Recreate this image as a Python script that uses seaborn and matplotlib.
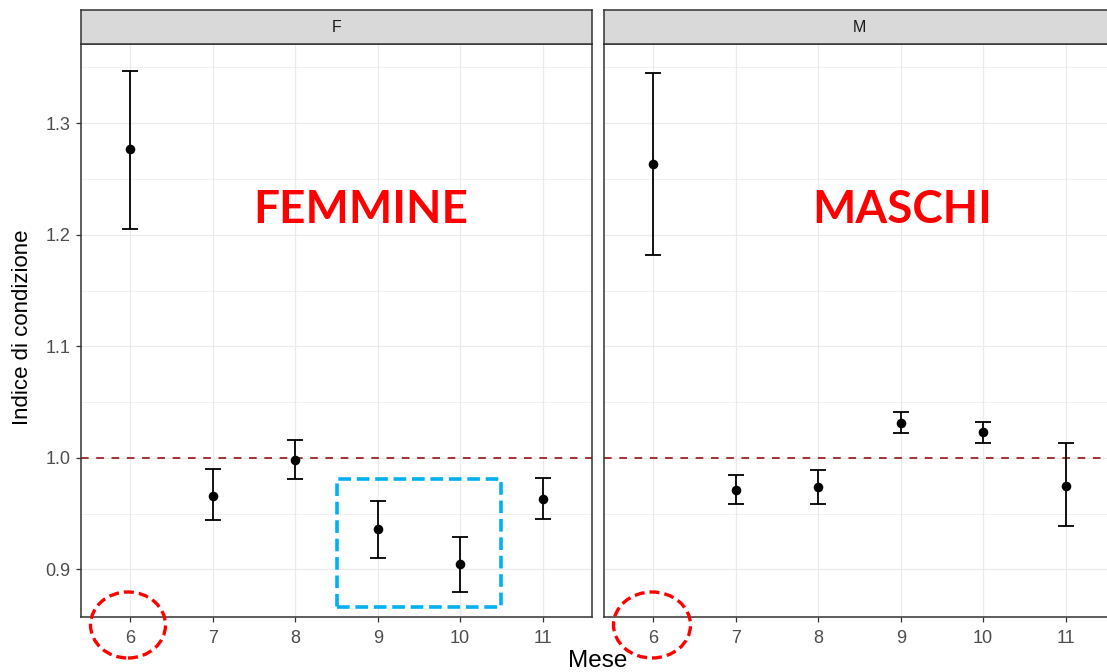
import numpy as np
import pandas as pd
import matplotlib.pyplot as plt
import seaborn as sns
from matplotlib.patches import Ellipse, Rectangle

# valori
mesi = [6, 7, 8, 9, 10, 11]
f_media = [1.277, 0.966, 0.998, 0.936, 0.905, 0.963]
f_basso = [1.205, 0.944, 0.981, 0.910, 0.880, 0.945]
f_alto = [1.347, 0.990, 1.016, 0.961, 0.929, 0.982]
m_media = [1.263, 0.971, 0.974, 1.031, 1.023, 0.975]
m_basso = [1.182, 0.959, 0.959, 1.022, 1.013, 0.939]
m_alto = [1.345, 0.985, 0.989, 1.041, 1.032, 1.013]
pannelli = ["F", "M"]
etichette = ["FEMMINE", "MASCHI"]

df = pd.concat([
    pd.DataFrame({"Mese": mesi, "sesso": "F", "indice": f_media, "lo": f_basso, "hi": f_alto}),
    pd.DataFrame({"Mese": mesi, "sesso": "M", "indice": m_media, "lo": m_basso, "hi": m_alto}),
])

sns.set_style("white")
plt.rcParams["font.family"] = ["Liberation Sans", "DejaVu Sans"]

W, H = 1107, 672
fig = plt.figure(figsize=(W / 100, H / 100), dpi=100)


def fx(px):
    return px / W


def fy(py):
    return 1 - py / H


top, bottom = 44, 617
lefts = [81, 604]
pw = 511

for i, s in enumerate(pannelli):
    ax = fig.add_axes([fx(lefts[i]), fy(bottom), fx(pw), (bottom - top) / H])
    strip = fig.add_axes([fx(lefts[i]), fy(top), fx(pw), 34 / H])
    strip.set_facecolor("#D9D9D9")
    strip.set_xticks([])
    strip.set_yticks([])
    for sp in strip.spines.values():
        sp.set_color("#333333")
        sp.set_linewidth(1.1)
    strip.text(0.5, 0.5, s, ha="center", va="center", fontsize=11.5, color="#1A1A1A")

    d = df[df["sesso"] == s]
    ax.axhline(1.0, color="#8B0000", lw=1.1, ls=(0, (5, 5)), zorder=2)
    ax.errorbar(d["Mese"], d["indice"],
                yerr=[d["indice"] - d["lo"], d["hi"] - d["indice"]],
                fmt="none", ecolor="black", elinewidth=1.3, capsize=6, capthick=1.3, zorder=3)
    sns.scatterplot(data=d, x="Mese", y="indice", ax=ax, color="black", s=48,
                    edgecolor="black", linewidth=0, zorder=4)

    ax.set_xticks(mesi)
    ax.set_yticks([0.9, 1.0, 1.1, 1.2, 1.3])
    ax.set_yticks([0.95, 1.05, 1.15, 1.25, 1.35], minor=True)
    ax.set_xlim(5.4, 11.6)
    ax.set_ylim(0.8573, 1.371)
    ax.grid(True, which="major", color="#EBEBEB", lw=0.9)
    ax.grid(True, which="minor", axis="y", color="#EBEBEB", lw=0.5)
    ax.set_axisbelow(True)

    ax.set_xlabel("")
    ax.set_ylabel("")
    ax.tick_params(axis="both", length=3.5, width=0.9, color="#333333",
                   labelcolor="#4D4D4D", labelsize=13, bottom=True, left=(i == 0), pad=4)
    ax.tick_params(axis="x", pad=6)
    ax.tick_params(axis="y", which="minor", length=0)
    if i == 0:
        ax.yaxis.set_major_formatter(plt.FormatStrFormatter("%.1f"))
    else:
        ax.set_yticklabels([])
    for sp in ax.spines.values():
        sp.set_color("#333333")
        sp.set_linewidth(1.1)

    if i == 0:
        ax.add_patch(Rectangle((8.5, 0.866), 2.0, 0.115, fill=False, ec="#00B0F0",
                               lw=2.6, ls=(0, (3.5, 1.6)), zorder=5, clip_on=False))

# etichette rosse e cerchi
fig.text(fx(361), fy(223), etichette[0], color="#FF0000", fontsize=33, fontweight="bold",
         family="Lato", ha="center", va="baseline")
fig.text(fx(902), fy(223), etichette[1], color="#FF0000", fontsize=33, fontweight="bold",
         family="Lato", ha="center", va="baseline")
for cx, w in [(128, 75), (652, 77)]:
    fig.add_artist(Ellipse((fx(cx), fy(625)), fx(w), 66 / H, transform=fig.transFigure,
                           fill=False, ec="#FF0000", lw=2.4, ls=(0, (3, 1.5)), zorder=10))

fig.text(fx(23), fy(327), "Indice di condizione", rotation=90, ha="center", va="center",
         fontsize=16, color="black")
fig.text(fx(598), fy(667), "Mese", ha="center", va="baseline", fontsize=17.5, color="black")

fig.savefig("out.png", dpi=100)
